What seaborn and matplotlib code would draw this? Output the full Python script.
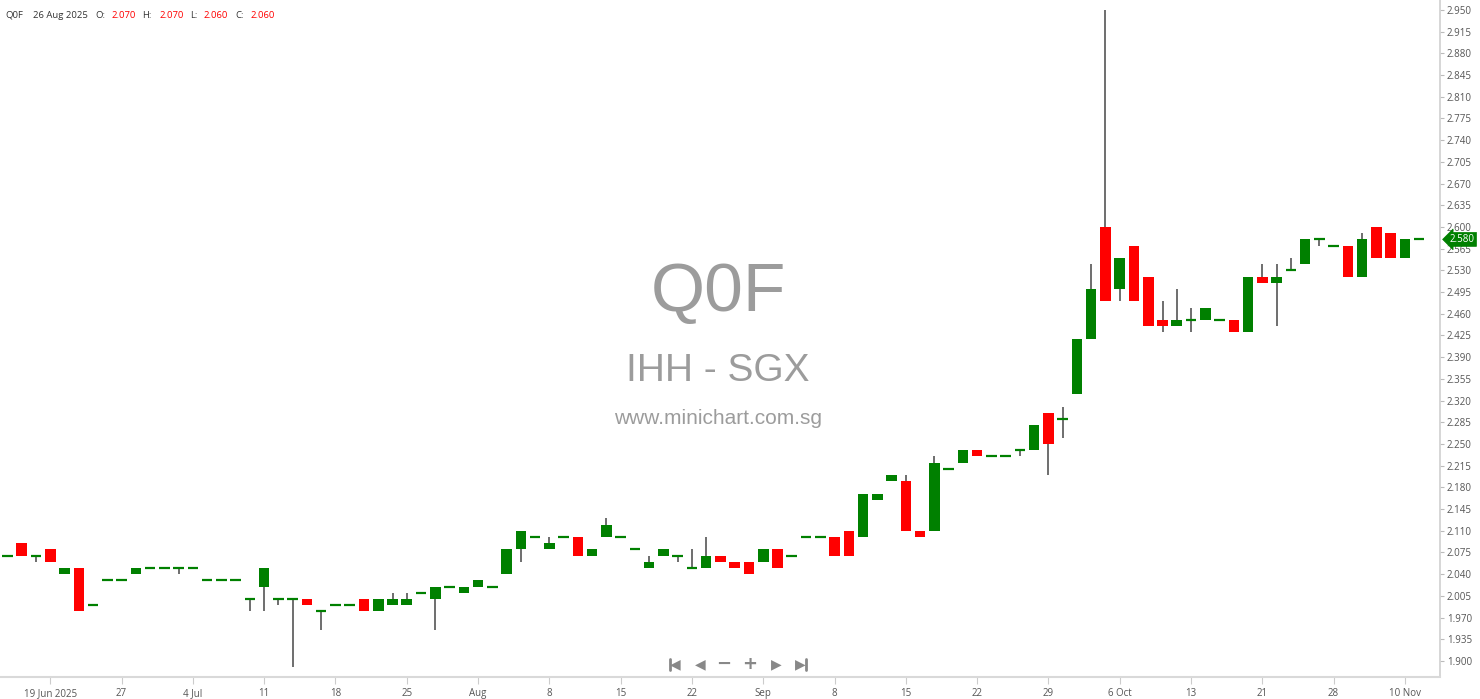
import numpy as np
import pandas as pd
import matplotlib
matplotlib.use("Agg")
import matplotlib.pyplot as plt
import matplotlib.transforms as mtransforms
from matplotlib.lines import Line2D
import seaborn as sns

# daily OHLC for Q0F (IHH - SGX), one entry per bar
opens = [2.07, 2.09, 2.07, 2.08, 2.04, 2.05, 1.99, 2.03, 2.03, 2.04,
         2.05, 2.05, 2.05, 2.05, 2.03, 2.03, 2.03, 2.00, 2.02, 2.00,
         2.00, 2.00, 1.98, 1.99, 1.99, 2.00, 1.98, 1.99, 1.99, 2.01,
         2.00, 2.02, 2.01, 2.02, 2.02, 2.04, 2.08, 2.10, 2.08, 2.10,
         2.10, 2.07, 2.10, 2.10, 2.08, 2.05, 2.07, 2.07, 2.05, 2.05,
         2.07, 2.06, 2.06, 2.06, 2.08, 2.07, 2.10, 2.10, 2.10, 2.11,
         2.10, 2.16, 2.19, 2.19, 2.11, 2.11, 2.21, 2.22, 2.24, 2.23,
         2.23, 2.24, 2.24, 2.30, 2.29, 2.33, 2.42, 2.60, 2.50, 2.57,
         2.52, 2.45, 2.44, 2.45, 2.45, 2.45, 2.45, 2.43, 2.52, 2.51,
         2.53, 2.54, 2.58, 2.57, 2.57, 2.52, 2.60, 2.59, 2.55, 2.58]
highs = [2.07, 2.09, 2.07, 2.08, 2.05, 2.05, 1.99, 2.03, 2.03, 2.05,
         2.05, 2.05, 2.05, 2.05, 2.03, 2.03, 2.03, 2.00, 2.05, 2.00,
         2.00, 2.00, 1.98, 1.99, 1.99, 2.00, 2.00, 2.01, 2.01, 2.01,
         2.02, 2.02, 2.02, 2.03, 2.02, 2.08, 2.11, 2.10, 2.10, 2.10,
         2.10, 2.08, 2.13, 2.10, 2.08, 2.07, 2.08, 2.07, 2.08, 2.10,
         2.07, 2.06, 2.06, 2.08, 2.08, 2.07, 2.10, 2.10, 2.10, 2.11,
         2.17, 2.17, 2.20, 2.20, 2.11, 2.23, 2.21, 2.24, 2.24, 2.23,
         2.23, 2.24, 2.28, 2.30, 2.31, 2.42, 2.54, 2.95, 2.55, 2.57,
         2.52, 2.48, 2.50, 2.47, 2.47, 2.45, 2.45, 2.52, 2.54, 2.54,
         2.55, 2.58, 2.58, 2.57, 2.57, 2.59, 2.60, 2.59, 2.58, 2.58]
lows = [2.07, 2.07, 2.06, 2.06, 2.04, 1.98, 1.99, 2.03, 2.03, 2.04,
        2.05, 2.05, 2.04, 2.05, 2.03, 2.03, 2.03, 1.98, 1.98, 1.99,
        1.89, 1.99, 1.95, 1.99, 1.99, 1.98, 1.98, 1.99, 1.99, 2.01,
        1.95, 2.02, 2.01, 2.02, 2.02, 2.04, 2.06, 2.10, 2.08, 2.10,
        2.07, 2.07, 2.10, 2.10, 2.08, 2.05, 2.07, 2.06, 2.05, 2.05,
        2.06, 2.05, 2.04, 2.06, 2.05, 2.07, 2.10, 2.10, 2.07, 2.07,
        2.10, 2.16, 2.19, 2.11, 2.10, 2.11, 2.21, 2.22, 2.23, 2.23,
        2.23, 2.23, 2.24, 2.20, 2.26, 2.33, 2.42, 2.48, 2.48, 2.48,
        2.44, 2.43, 2.44, 2.43, 2.45, 2.45, 2.43, 2.43, 2.51, 2.44,
        2.53, 2.54, 2.57, 2.57, 2.52, 2.52, 2.55, 2.55, 2.55, 2.58]
closes = [2.07, 2.07, 2.07, 2.06, 2.05, 1.98, 1.99, 2.03, 2.03, 2.05,
          2.05, 2.05, 2.05, 2.05, 2.03, 2.03, 2.03, 2.00, 2.05, 2.00,
          2.00, 1.99, 1.98, 1.99, 1.99, 1.98, 2.00, 2.00, 2.00, 2.01,
          2.02, 2.02, 2.02, 2.03, 2.02, 2.08, 2.11, 2.10, 2.09, 2.10,
          2.07, 2.08, 2.12, 2.10, 2.08, 2.06, 2.08, 2.07, 2.05, 2.07,
          2.06, 2.05, 2.04, 2.08, 2.05, 2.07, 2.10, 2.10, 2.07, 2.07,
          2.17, 2.17, 2.20, 2.11, 2.10, 2.22, 2.21, 2.24, 2.23, 2.23,
          2.23, 2.24, 2.28, 2.25, 2.29, 2.42, 2.50, 2.48, 2.55, 2.48,
          2.44, 2.44, 2.45, 2.45, 2.47, 2.45, 2.43, 2.52, 2.51, 2.52,
          2.53, 2.58, 2.58, 2.57, 2.52, 2.58, 2.55, 2.55, 2.58, 2.58]

# one label every 5 bars, starting at the 4th bar
x_labels = ["19 Jun 2025", "27", "4 Jul", "11", "18", "25", "Aug", "8", "15", "22",
            "Sep", "8", "15", "22", "29", "6 Oct", "13", "21", "28", "10 Nov"]

header_parts = ["Q0F", "26 Aug 2025", "O:", "2.070", "H:", "2.070", "L:", "2.060", "C:", "2.060"]

UP = "#008000"
DOWN = "#ff0000"
WICK = "#6e6e6e"

sns.set_theme(style="white")
plt.rcParams["font.family"] = ["Open Sans", "DejaVu Sans"]

df = pd.DataFrame({"open": opens, "high": highs, "low": lows, "close": closes})
df["bar"] = np.arange(len(df))

fig = plt.figure(figsize=(14.8, 6.99), dpi=100)
ax = fig.add_axes([0, 22 / 699, 1440 / 1480, 677 / 699])

# wicks
w = df[(df["high"] > df[["open", "close"]].max(axis=1)) | (df["low"] < df[["open", "close"]].min(axis=1))]
ax.vlines(w["bar"], w["low"], w["high"], color=WICK, lw=1.4, zorder=2)

bw = 0.74
up = df[df["close"] > df["open"]]
down = df[df["close"] < df["open"]]
flat = df[df["close"] == df["open"]]
ax.bar(up["bar"], up["close"] - up["open"], bottom=up["open"], width=bw,
       color=UP, edgecolor="none", zorder=3)
ax.bar(down["bar"], down["open"] - down["close"], bottom=down["close"], width=bw,
       color=DOWN, edgecolor="none", zorder=3)
ax.hlines(flat["close"], flat["bar"] - bw / 2, flat["bar"] + bw / 2, color=UP, lw=1.6, zorder=3)

ax.set_xlim(-0.526, 100.46)
ax.set_ylim(1.8742, 2.9661)

yt = np.round(np.arange(1.900, 2.951, 0.035), 3)
ax.yaxis.tick_right()
ax.set_yticks(yt)
ax.set_yticklabels([f"{v:.3f}" for v in yt])
ax.set_xticks(np.arange(3, len(df), 5))
ax.set_xticklabels(x_labels)
ax.tick_params(axis="y", which="both", right=True, length=3, width=0.8, color="#bbbbbb",
               labelsize=7, labelcolor="#555555", pad=2)
ax.tick_params(axis="x", which="both", bottom=True, length=5, width=0.8, color="#cccccc",
               labelsize=7, labelcolor="#555555", pad=3)
for s in ["left", "top"]:
    ax.spines[s].set_visible(False)
ax.spines["right"].set_color("#d0d0d0")
ax.spines["right"].set_linewidth(1.2)
ax.spines["bottom"].set_color("#d9d9d9")
ax.spines["bottom"].set_linewidth(1.5)
ax.set_xlabel("")
ax.set_ylabel("")

# watermark
wm = dict(ha="center", va="center", color="#9c9c9c", family=["Liberation Sans", "DejaVu Sans"],
          transform=fig.transFigure, zorder=0)
fig.text(718 / 1480, 1 - 293 / 699, "Q0F", fontsize=50, **wm)
fig.text(718 / 1480, 1 - 371 / 699, "IHH - SGX", fontsize=28, **wm)
fig.text(718 / 1480, 1 - 418 / 699, "www.minichart.com.sg", fontsize=15, **wm)

# header line
header_x = [5, 33, 95, 112, 142, 160, 190, 204, 235, 251]
for i, (px, t) in enumerate(zip(header_x, header_parts)):
    col = DOWN if i >= 3 and i % 2 == 1 else "#333333"
    fig.text(px / 1480, 1 - 15 / 699, t, fontsize=6.8, color=col, ha="left", va="center")

# last price tag
trans = mtransforms.blended_transform_factory(ax.transAxes, ax.transData)
ax.text(1.0 + 10 / 1440, df["close"].iloc[-1], f"{df['close'].iloc[-1]:.3f}", transform=trans,
        fontsize=7, color="white", ha="left", va="center", clip_on=False, zorder=5,
        bbox=dict(boxstyle="larrow,pad=0.15", fc=UP, ec=UP, lw=0.5))

# navigation buttons
nav_col = "#888888"
ny = 1 - 664 / 699
tri = dict(fontsize=10, color=nav_col, ha="center", va="center", family="DejaVu Sans")
fig.text(675 / 1480, ny, "◀", **tri)
fig.add_artist(Line2D([669.5 / 1480] * 2, [ny - 5.5 / 699, ny + 5.5 / 699], color=nav_col, lw=2))
fig.text(700 / 1480, ny, "◀", **tri)
fig.text(724 / 1480, ny, "−", fontsize=13, color=nav_col, ha="center", va="center", family="DejaVu Sans", weight="bold")
fig.text(750 / 1480, ny, "+", fontsize=13, color=nav_col, ha="center", va="center", family="DejaVu Sans", weight="bold")
fig.text(776 / 1480, ny, "▶", **tri)
fig.text(800 / 1480, ny, "▶", **tri)
fig.add_artist(Line2D([806.5 / 1480] * 2, [ny - 5.5 / 699, ny + 5.5 / 699], color=nav_col, lw=2))

fig.savefig("out.png", dpi=100, facecolor="white")
plt.close(fig)
